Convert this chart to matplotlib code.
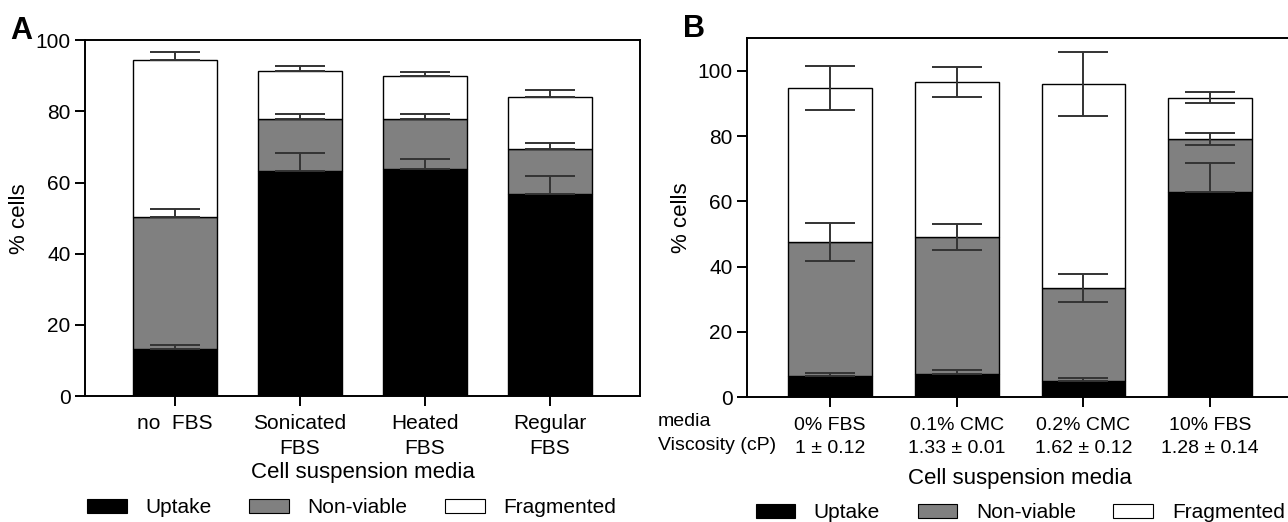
import numpy as np
import matplotlib.pyplot as plt
from matplotlib.patches import Patch

plt.rcParams['font.family'] = ['Liberation Sans', 'DejaVu Sans']

# panel A data (segment heights, % cells)
cats_a = ["no  FBS", "Sonicated\nFBS", "Heated\nFBS", "Regular\nFBS"]
uptake_a = [13.2, 63.3, 63.9, 56.7]
nonviable_a = [37.2, 14.5, 14.1, 12.8]
fragmented_a = [43.9, 13.5, 11.9, 14.5]
err_uptake_a = [1.3, 4.9, 2.6, 5.1]
err_nonviable_a = [2.2, 1.6, 1.4, 1.5]
err_fragmented_a = [2.5, 1.4, 1.2, 1.9]

# panel B data
cats_b = ["0% FBS\n1 ± 0.12", "0.1% CMC\n1.33 ± 0.01", "0.2% CMC\n1.62 ± 0.12", "10% FBS\n1.28 ± 0.14"]
uptake_b = [6.5, 7.2, 5.1, 62.9]
nonviable_b = [41.1, 41.9, 28.5, 16.2]
fragmented_b = [47.1, 47.5, 62.4, 12.7]
err_uptake_b = [0.8, 1.2, 0.8, 8.7]
err_nonviable_b = [5.9, 4.1, 4.3, 1.9]
err_fragmented_b = [6.7, 4.7, 9.8, 1.6]

series_names = ["Uptake", "Non-viable", "Fragmented"]
colors = ["black", "#808080", "white"]
err_col = "#333333"

fig = plt.figure(figsize=(12.88, 5.22), dpi=100)
axA = fig.add_axes([0.066, 0.241, 0.431, 0.682])
axB = fig.add_axes([0.580, 0.239, 0.424, 0.688])


def stacked(ax, segs, errs, one_sided, width):
    x = np.arange(len(segs[0]))
    bottom = np.zeros(len(x))
    for i, (seg, err, c) in enumerate(zip(segs, errs, colors)):
        seg = np.array(seg)
        ax.bar(x, seg, width, bottom=bottom, color=c, edgecolor="black", linewidth=1.0, zorder=2)
        top = bottom + seg
        # lower whisker of the black segment is hidden in the bar, draw upper only
        if one_sided or i == 0:
            yerr = [np.zeros(len(x)), err]
        else:
            yerr = err
        ax.errorbar(x, top, yerr=yerr, fmt="none", ecolor=err_col, elinewidth=1.4,
                    capsize=18, capthick=1.4, zorder=3)
        bottom = top
    return x


xa = stacked(axA, [uptake_a, nonviable_a, fragmented_a],
             [err_uptake_a, err_nonviable_a, err_fragmented_a], True, 0.67)
xb = stacked(axB, [uptake_b, nonviable_b, fragmented_b],
             [err_uptake_b, err_nonviable_b, err_fragmented_b], False, 0.66)

for ax in (axA, axB):
    for s in ax.spines.values():
        s.set_linewidth(1.4)
    ax.tick_params(axis="both", labelsize=15, width=1.4, length=7)
    ax.set_ylabel("% cells", fontsize=16)

axA.set_ylim(0, 100)
axA.set_xlim(-0.72, 3.72)
axA.set_yticks(np.arange(0, 101, 20))
axA.set_xticks(xa)
axA.set_xticklabels(cats_a, linespacing=1.4)
axA.tick_params(axis="x", pad=6)
axA.set_xlabel("Cell suspension media", fontsize=16, labelpad=3)

axB.set_ylim(0, 110)
axB.set_xlim(-0.655, 3.655)
axB.set_yticks(np.arange(0, 101, 20))
axB.set_xticks(xb)
axB.set_xticklabels(cats_b, linespacing=1.5, fontsize=14)
axB.tick_params(axis="x", pad=7)
axB.set_xlabel("Cell suspension media", fontsize=16, labelpad=8)
fig.text(0.511, 1 - 413 / 522, "media\nViscosity (cP)", ha="left", va="top",
         fontsize=14, linespacing=1.5)

fig.text(0.008, 0.94, "A", fontsize=22, fontweight="bold", va="center")
fig.text(0.530, 0.945, "B", fontsize=22, fontweight="bold", va="center")

handles = [Patch(facecolor=c, edgecolor="black", linewidth=0.8) for c in colors]
leg_kw = dict(loc="center", ncol=3, frameon=False, fontsize=15, handlelength=1.9,
              handleheight=0.7, handletextpad=0.9, columnspacing=1.8,
              borderpad=0, borderaxespad=0)
fig.legend(handles, series_names, bbox_to_anchor=(0.273, 0.027), **leg_kw)
fig.legend(handles, series_names, bbox_to_anchor=(0.792, 0.018), **leg_kw)

fig.savefig("out.png", dpi=100)
